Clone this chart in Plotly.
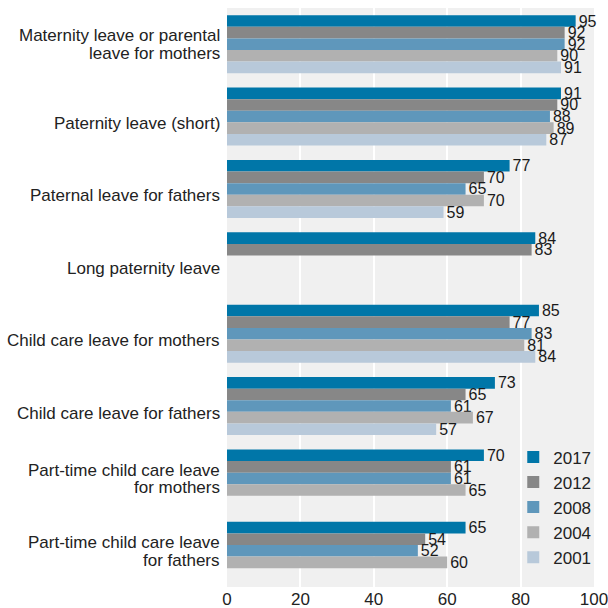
import plotly.graph_objects as go

categories = [
    "Maternity leave or parental<br>leave for mothers",
    "Paternity leave (short)",
    "Paternal leave for fathers",
    "Long paternity leave",
    "Child care leave for mothers",
    "Child care leave for fathers",
    "Part-time child care leave<br>for mothers",
    "Part-time child care leave<br>for fathers",
]
years = ["2017", "2012", "2008", "2004", "2001"]
v2017 = [95, 91, 77, 84, 85, 73, 70, 65]
v2012 = [92, 90, 70, 83, 77, 65, 61, 54]
v2008 = [92, 88, 65, None, 83, 61, 61, 52]
v2004 = [90, 89, 70, None, 81, 67, 65, 60]
v2001 = [91, 87, 59, None, 84, 57, None, None]
x_ticks = [0, 20, 40, 60, 80, 100]

series = [v2017, v2012, v2008, v2004, v2001]
colors = ["#0076A8", "#878787", "#5F97BB", "#B1B1B1", "#B8C9DA"]
FONT = "Liberation Sans, Arial, sans-serif"
TXT = "#222222"

fig = go.Figure()
for name, vals, col in zip(years, series, colors):
    fig.add_trace(go.Bar(
        y=categories, x=vals, name=name, orientation="h",
        marker=dict(color=col, line=dict(width=0)),
        text=[("" if v is None else str(v)) for v in vals],
        textposition="outside", constraintext="none", cliponaxis=False,
        textfont=dict(family=FONT, size=16, color="#1a1a1a"),
    ))

# category labels with tight line spacing (as in the reference)
LINE = 17.5
for cat in categories:
    lines = cat.split("<br>")
    n = len(lines)
    base = -7 if n == 1 else -0.5
    for i, ln in enumerate(lines):
        off = base - (i - (n - 1) / 2) * LINE
        fig.add_annotation(
            x=0, xref="paper", y=cat, yref="y", text=ln, showarrow=False,
            xanchor="right", yanchor="middle", xshift=-5, yshift=off,
            font=dict(family=FONT, size=17, color=TXT),
        )

fig.update_layout(
    width=608, height=608,
    barmode="group", bargap=0.2, bargroupgap=0,
    plot_bgcolor="#F0F0F0", paper_bgcolor="white",
    margin=dict(l=227, r=14, t=8, b=21, autoexpand=False),
    font=dict(family=FONT, size=17, color=TXT),
    legend=dict(
        x=0.78, y=0.255, xanchor="left", yanchor="top",
        bgcolor="rgba(0,0,0,0)", font=dict(family=FONT, size=17, color=TXT),
        tracegroupgap=0, itemwidth=30,
    ),
    xaxis=dict(
        range=[0, 100], tickvals=x_ticks, showgrid=True, gridcolor="white", gridwidth=2,
        zeroline=False, showline=False, ticks="", tickfont=dict(size=17, color=TXT),
        automargin=False, ticklabeloverflow="allow",
    ),
    yaxis=dict(
        autorange="reversed", showgrid=False, zeroline=False, showline=False,
        ticks="", showticklabels=False, automargin=False,
    ),
)

fig.write_html(
    "out.html",
    config={"displayModeBar": False},
    post_script="document.body.style.margin='0';document.body.style.overflow='hidden';",
)
